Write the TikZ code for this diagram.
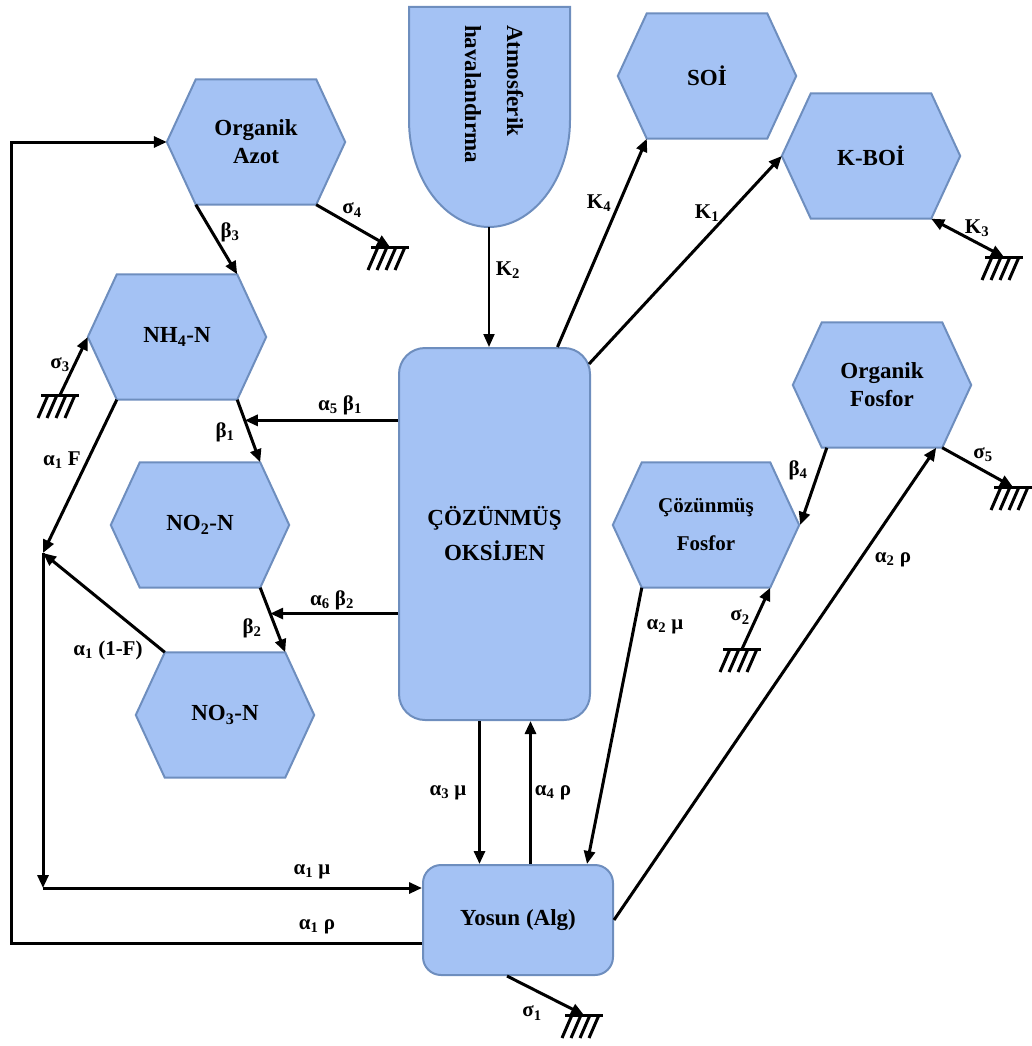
\documentclass[tikz,border=0pt]{standalone}
\usepackage{fontspec}
\setmainfont{Liberation Serif}
\usetikzlibrary{arrows.meta,backgrounds,calc}

\definecolor{kutumavi}{HTML}{A4C2F4}
\definecolor{kenarmavi}{HTML}{6E8EBE}

\begin{document}
\begin{tikzpicture}[x=1pt, y=-1pt,
  yazi/.style={font=\fontsize{23}{28}\selectfont\bfseries},
  altigen/.style={yazi, rectangle, minimum width=120pt, minimum height=125pt, inner sep=0pt, align=center},
  kutu/.style={yazi, rectangle, rounded corners=#1, fill=kutumavi, draw=kenarmavi, line width=2pt, inner sep=0pt, align=center},
  ok/.style={line width=3pt, -{Triangle[length=13pt,width=11pt]}},
  etiket/.style={font=\fontsize{21}{24}\selectfont\bfseries, inner sep=0pt},
  toprak/.pic={
    \draw[line width=3pt] (-19,0) -- (19,0);
    \foreach \i in {-12,-3,6,15}
      \draw[line width=3pt] (\i,0) -- ++(-10,23);
  }]
\useasboundingbox (0,0) rectangle (1032,1046);

% atmosferik havalandirma
\filldraw[fill=kutumavi, draw=kenarmavi, line width=2pt]
  (409,7) -- (570,7) -- (570,120) .. controls (570,180) and (532,227) .. (489,227)
  .. controls (446,227) and (409,180) .. (409,120) -- cycle;
\node[rotate=-90, anchor=west, align=left, inner sep=0pt, font=\fontsize{23}{42}\selectfont\bfseries]
  (atmos) at (494,25) {Atmosferik\\havalandırma};
\coordinate (atmosalt) at (489,227);

% altigenler
\node[altigen] (orgazot) at (256,142) {Organik\\Azot};
\node[altigen] (nhdort) at (177,337) {NH\textsubscript{4}-N};
\node[altigen] (noiki) at (200,525) {NO\textsubscript{2}-N};
\node[altigen] (nouc) at (225,715) {NO\textsubscript{3}-N};
\node[altigen] (soi) at (707,76) {SOİ};
\node[altigen] (kboi) at (871,156) {K-BOİ};
\node[altigen] (orgfos) at (882,385) {Organik\\Fosfor};
\node[altigen, minimum width=128pt, font=\fontsize{21}{26}\selectfont\bfseries] (cozfos) at (706,525) {Çözünmüş\\[12pt]Fosfor};

\begin{scope}[on background layer]
\foreach \n in {orgazot,nhdort,noiki,nouc,soi,kboi,orgfos,cozfos}
  \filldraw[fill=kutumavi, draw=kenarmavi, line width=2pt]
    ([xshift=-29pt]\n.west) -- (\n.north west) -- (\n.north east) -- ([xshift=29pt]\n.east)
    -- (\n.south east) -- (\n.south west) -- cycle;
\end{scope}

% kutular
\node[kutu=26pt, minimum width=191pt, minimum height=372pt] (oksijen) at (494.5,534) {ÇÖZÜNMÜŞ\\[7pt]OKSİJEN};
\node[kutu=18pt, minimum width=190pt, minimum height=110pt] (yosun) at (518,920) {Yosun (Alg)};

% toprak noktalari
\coordinate (yer1) at (584,1015);
\coordinate (yer2) at (742,649);
\coordinate (yer3) at (60,395);
\coordinate (yer4) at (390,247);
\coordinate (yer5) at (1013,487);
\coordinate (yerk) at (1004,257);
\foreach \t in {yer1,yer2,yer3,yer4,yer5,yerk}
  \pic at (\t) {toprak};

\coordinate (kavsak) at (43,553);
\coordinate (kose) at (43,888);
\coordinate (solkose) at (11,142);
\coordinate (o3) at ([xshift=-15pt]oksijen.south);
\coordinate (o4) at ([xshift=36pt]oksijen.south);
\coordinate (b1orta) at ($(nhdort.south east)!0.33!(noiki.north east)$);
\coordinate (b2orta) at ($(noiki.south east)!0.4!(nouc.north east)$);

% baglantilar
\draw[ok, line width=2pt] (atmosalt) -- (atmosalt |- oksijen.north);
\draw[ok] ([xshift=63pt]oksijen.north) -- (soi.south west);
\draw[ok] ([shift={(-2pt,-17pt)}]oksijen.north east) -- ([xshift=-29pt]kboi.west);
\draw[line width=3pt, {Triangle[length=13pt,width=11pt]}-{Triangle[length=13pt,width=11pt]}] (kboi.south east) -- (yerk);
\draw[ok] (orgazot.south east) -- (yer4);
\draw[ok] (orgazot.south west) -- (nhdort.north east);
\draw[ok] (yer3) -- ([xshift=-29pt]nhdort.west);
\draw[ok] (nhdort.south west) -- (kavsak);
\draw[ok] (nhdort.south east) -- (noiki.north east);
\draw[ok] (oksijen.west |- b1orta) -- (b1orta);
\draw[ok] (noiki.south east) -- (nouc.north east);
\draw[ok] (oksijen.west |- b2orta) -- (b2orta);
\draw[ok] (nouc.north west) -- (kavsak);
\draw[ok] (kavsak) -- (kose);
\draw[ok] (kose) -- (yosun.west |- kose);
\draw[ok] ([yshift=-23pt]yosun.west) -| (solkose) -- ([xshift=-29pt]orgazot.west);
\draw[ok] (o3) -- (o3 |- yosun.north);
\draw[ok] (o4 |- yosun.north) -- (o4);
\draw[ok] (cozfos.south west) -- ([xshift=69pt]yosun.north);
\draw[ok] (yosun.east) -- ([xshift=-6pt]orgfos.south east);
\draw[ok] ([xshift=5pt]orgfos.south west) -- ([xshift=30pt]cozfos.east);
\draw[ok] (orgfos.south east) -- (yer5);
\draw[ok] (yer2) -- (cozfos.south east);
\draw[ok] ([xshift=-11pt]yosun.south) -- (yer1);

% etiketler
\node[etiket] (lk2) at (508,270) {K\textsubscript{2}};
\node[etiket] (lk4) at (599,203) {K\textsubscript{4}};
\node[etiket] (lk1) at (707,213) {K\textsubscript{1}};
\node[etiket] (lk3) at (977,228) {K\textsubscript{3}};
\node[etiket] (ls4) at (352,210) {σ\textsubscript{4}};
\node[etiket] (lb3) at (230,232) {β\textsubscript{3}};
\node[etiket] (ls3) at (60,365) {σ\textsubscript{3}};
\node[etiket] (la1f) at (62,460) {α\textsubscript{1} F};
\node[etiket] (lb1) at (225,432) {β\textsubscript{1}};
\node[etiket] (la5) at (340,405) {α\textsubscript{5} β\textsubscript{1}};
\node[etiket] (la6) at (332,600) {α\textsubscript{6} β\textsubscript{2}};
\node[etiket] (lb2) at (252,628) {β\textsubscript{2}};
\node[etiket] (la1e) at (108,650) {α\textsubscript{1} (1-F)};
\node[etiket] (la1m) at (312,872) {α\textsubscript{1} μ};
\node[etiket] (la1r) at (317,927) {α\textsubscript{1} ρ};
\node[etiket] (la3) at (448,793) {α\textsubscript{3} μ};
\node[etiket] (la4) at (553,793) {α\textsubscript{4} ρ};
\node[etiket] (la2m) at (665,627) {α\textsubscript{2} μ};
\node[etiket] (ls2) at (740,617) {σ\textsubscript{2}};
\node[etiket] (lb4) at (798,470) {β\textsubscript{4}};
\node[etiket] (ls5) at (983,455) {σ\textsubscript{5}};
\node[etiket] (la2r) at (893,560) {α\textsubscript{2} ρ};
\node[etiket] (ls1) at (532,1013) {σ\textsubscript{1}};
\end{tikzpicture}
\end{document}
